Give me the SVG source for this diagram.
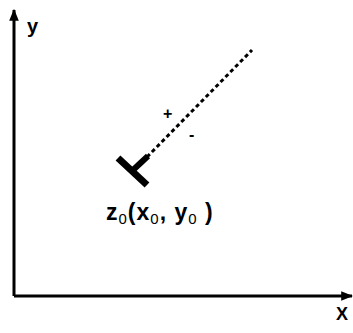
<svg xmlns="http://www.w3.org/2000/svg" width="353" height="333" viewBox="0 0 353 333">
<style>
.ax{stroke:#000;stroke-width:3;fill:none}
.t{font-family:"Liberation Sans",Arial,sans-serif;fill:#000}
</style>
<defs>
<marker id="ah" viewBox="0 0 10 10" refX="9" refY="5" markerWidth="4" markerHeight="4" orient="auto" markerUnits="strokeWidth">
<path d="M0,1 L10,5 L0,9 Z" fill="#000"/>
</marker>
</defs>
<rect width="353" height="333" fill="#fff"/>
<g id="connectors">
<path class="ax" d="M14,296 L14,10" marker-end="url(#ah)"/>
<path class="ax" d="M14,296 L352,296" marker-end="url(#ah)"/>
<path d="M147,157 L252,50" stroke="#000" stroke-width="3" stroke-dasharray="4,3" fill="none"/>
</g>
<g id="node-z0">
<path d="M118,158 L147,185" stroke="#000" stroke-width="7" fill="none"/>
<path d="M132,171 L148,156" stroke="#000" stroke-width="6" fill="none"/>
<text class="t" x="106" y="220" font-size="23" font-weight="bold" letter-spacing="1">z<tspan font-size="15" font-weight="normal" dy="4">0</tspan><tspan dy="-4">(x</tspan><tspan font-size="15" font-weight="normal" dy="4">0</tspan><tspan dy="-4">, y</tspan><tspan font-size="15" font-weight="normal" dy="4">0</tspan><tspan dy="-4"> )</tspan></text>
</g>
<g id="labels">
<text class="t" x="27" y="33" font-size="20" font-weight="bold">y</text>
<text class="t" x="336" y="320" font-size="18" font-weight="bold">X</text>
<text class="t" x="163" y="119" font-size="16" font-weight="bold">+</text>
<text class="t" x="189" y="140" font-size="16" font-weight="bold">-</text>
</g>
</svg>
